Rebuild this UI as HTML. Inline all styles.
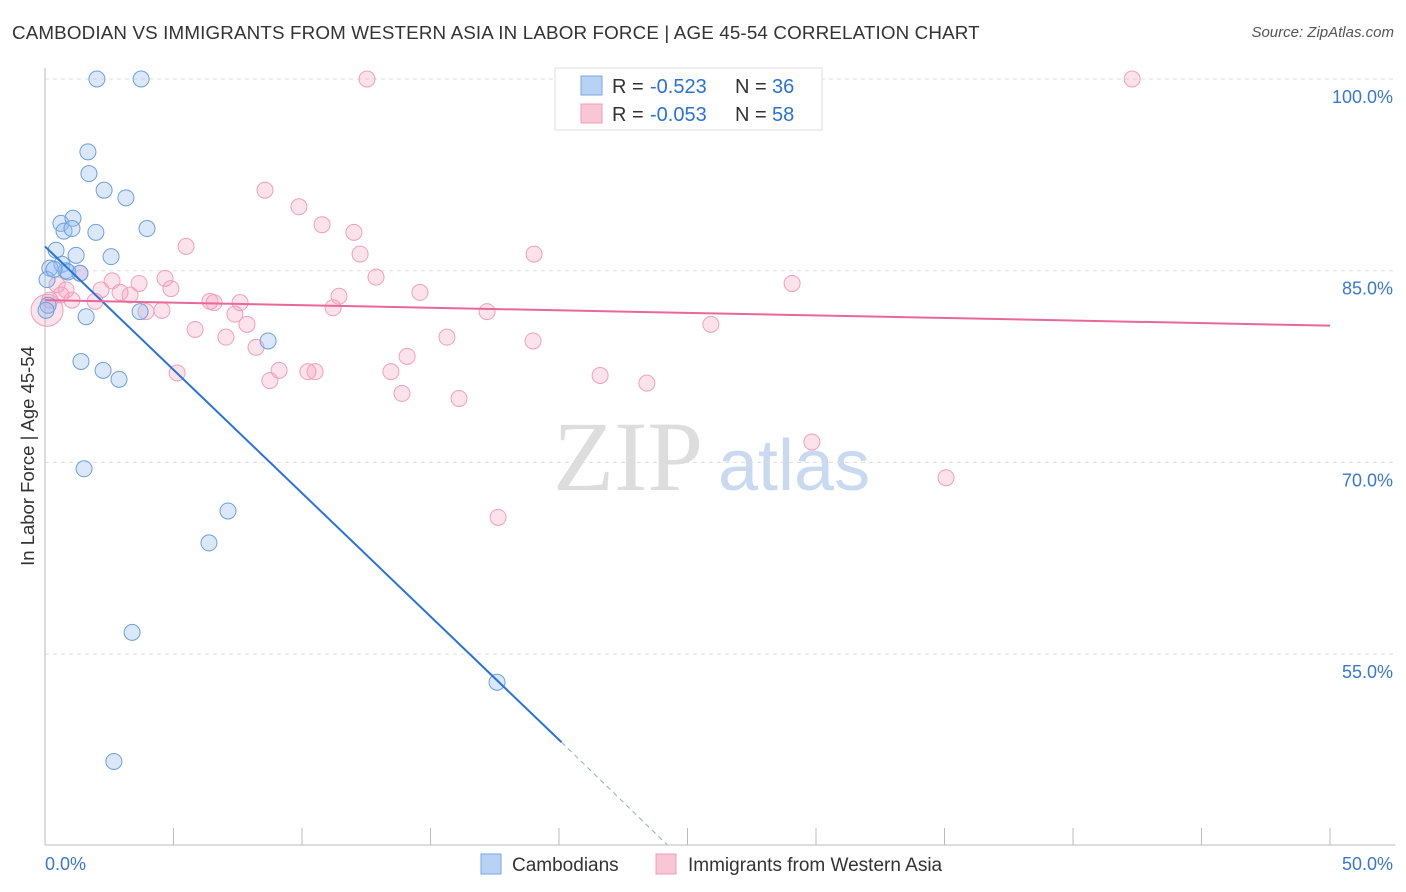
<!DOCTYPE html>
<html><head><meta charset="utf-8"><style>
body{margin:0;background:#fff;font-family:"Liberation Sans",sans-serif;}
#wrap{position:relative;width:1406px;height:892px;overflow:hidden;}
.t{position:absolute;white-space:nowrap;}
</style></head><body><div id="wrap">
<div class="t" style="left:12px;top:22px;font-size:18.8px;letter-spacing:0.15px;color:#333;">CAMBODIAN VS IMMIGRANTS FROM WESTERN ASIA IN LABOR FORCE | AGE 45-54 CORRELATION CHART</div>
<div class="t" style="right:12px;top:24px;font-size:15px;color:#555;font-style:italic;">Source: ZipAtlas.com</div>
<svg id="svg" width="1406" height="892" style="position:absolute;left:0;top:0"></svg>
</div>
<script>
const yTicks=[100,85,70,55];
const yTickLabels=["100.0%","85.0%","70.0%","55.0%"];
const xTickLabels=["0.0%","50.0%"];
const blueX=[2.02,3.74,1.67,1.71,2.30,3.15,3.97,0.62,1.09,0.74,1.05,1.98,0.43,1.21,2.57,0.19,0.66,0.82,1.36,0.08,0.12,1.60,3.70,1.40,2.26,2.88,8.68,1.52,7.12,6.38,3.39,17.59,2.68,0.89,0.35,0.04];
const blueY=[100,100,94.3,92.6,91.3,90.7,88.3,88.7,89.1,88.1,88.3,88.0,86.6,86.2,86.1,85.2,85.5,85.0,84.8,84.3,82.3,81.4,81.8,77.9,77.2,76.5,79.5,69.5,66.2,63.7,56.7,52.8,46.6,84.9,85.1,81.9];
const pinkX=[20.5,12.53,42.3,8.56,9.88,10.78,12.02,5.49,12.26,19.03,12.88,29.07,14.59,11.44,11.21,17.2,4.90,3.66,4.67,2.61,3.31,2.92,2.18,1.36,0.62,0.82,0.19,0.08,3.93,4.55,6.42,6.58,7.59,7.39,7.86,5.84,7.04,8.21,15.64,18.99,25.91,14.09,9.11,10.51,10.23,13.46,8.75,5.14,21.6,23.42,13.89,16.11,29.84,35.06,17.63,1.95,0.47,1.05];
const pinkY=[100,100,100,91.3,90.0,88.6,88.0,86.9,86.3,86.3,84.5,84.0,83.3,83.0,82.1,81.8,83.6,84.0,84.4,84.2,83.1,83.3,83.5,84.8,83.1,83.5,82.7,81.9,81.8,81.9,82.6,82.5,82.5,81.6,80.8,80.4,79.8,79.0,79.8,79.5,80.8,78.3,77.2,77.1,77.1,77.1,76.4,77.0,76.8,76.2,75.4,75.0,71.6,68.8,65.7,82.6,83.9,82.7];
const blueTrendX=[0,20.1],blueTrendY=[86.9,48.1],blueDashEnd=[24.2,40.1];
const pinkTrendX=[0,50],pinkTrendY=[82.7,80.7];
const X=v=>45+v*25.7, Y=v=>79+(100-v)*12.78;
const svg=document.getElementById('svg');const NS='http://www.w3.org/2000/svg';
function mk(t,a,p){const e=document.createElementNS(NS,t);for(const k in a)e.setAttribute(k,a[k]);(p||svg).appendChild(e);return e;}
let w=mk('text',{x:553,y:490,'font-size':100,'font-family':'Liberation Serif,serif',fill:'#ddd'});w.textContent='ZIP';


let w2=mk('text',{x:718,y:490,'font-size':72,'font-family':'Liberation Sans,sans-serif',fill:'#c9daf0'});w2.textContent='atlas';


yTicks.forEach((v,i)=>{
 const g=mk('line',{x1:45,x2:1395,y1:Y(v),y2:Y(v),stroke:'#ddd','stroke-dasharray':'4,4'});
 
 
 const t=mk('text',{x:1393,y:Y(v)+24,'text-anchor':'end','font-size':18,fill:'#3a78d0'});t.textContent=yTickLabels[i];
 
 
});
mk('line',{x1:45,x2:45,y1:68,y2:845,stroke:'#bbb'});
mk('line',{x1:45,x2:1395,y1:845,y2:845,stroke:'#bbb'});
for(let i=0;i<=10;i++){const l=mk('line',{x1:X(i*5),x2:X(i*5),y1:828,y2:845,stroke:'#bbb'});
 
 }
[[0,'start'],[50,'end']].forEach((d,i)=>{const t=mk('text',{x:i?1393:45,y:870,'text-anchor':d[1],'font-size':18,fill:'#3a78d0'});t.textContent=xTickLabels[i];
 
 });
const yl=mk('text',{x:34,y:456,transform:'rotate(-90 34 456)','text-anchor':'middle','font-size':18.5,fill:'#333'});yl.textContent='In Labor Force | Age 45-54';


pinkX.forEach((x,i)=>{const c=mk('circle',{cx:X(x),cy:Y(pinkY[i]),r:(i==27?16:8),fill:'rgba(244,160,190,0.3)',stroke:'#f0a0bb','stroke-width':1});
 
 });
blueX.forEach((x,i)=>{const c=mk('circle',{cx:X(x),cy:Y(blueY[i]),r:8,fill:'rgba(150,190,240,0.35)',stroke:'#6e9fe0','stroke-width':1});
 
 });
let l1=mk('line',{x1:X(blueTrendX[0]),y1:Y(blueTrendY[0]),x2:X(blueTrendX[1]),y2:Y(blueTrendY[1]),stroke:'#2a72d8','stroke-width':2});


let l2=mk('line',{x1:X(blueTrendX[1]),y1:Y(blueTrendY[1]),x2:X(blueDashEnd[0]),y2:Y(blueDashEnd[1]),stroke:'#9ab','stroke-width':1,'stroke-dasharray':'5,4'});


let l3=mk('line',{x1:X(pinkTrendX[0]),y1:Y(pinkTrendY[0]),x2:X(pinkTrendX[1]),y2:Y(pinkTrendY[1]),stroke:'#e8689a','stroke-width':2});


const lg=mk('g',{});
mk('rect',{x:555,y:68,width:267,height:62,fill:'#fff',stroke:'#ddd'},lg);
mk('rect',{x:581,y:76,width:21,height:19,fill:'#b8d2f4',stroke:'#7aa6e0'},lg);
mk('rect',{x:581,y:104,width:21,height:19,fill:'#f9c6d6',stroke:'#ef9cb8'},lg);
[[93,'-0.523','36'],[121,'-0.053','58']].forEach(r=>{
 const a1=mk('text',{x:612,y:r[0],'font-size':20,fill:'#333'},lg);a1.textContent='R =';
 const a2=mk('text',{x:650,y:r[0],'font-size':20,fill:'#2a72d8'},lg);a2.textContent=r[1];
 const a3=mk('text',{x:735,y:r[0],'font-size':20,fill:'#333'},lg);a3.textContent='N =';
 const a4=mk('text',{x:772,y:r[0],'font-size':20,fill:'#2a72d8'},lg);a4.textContent=r[2];
});
const bl=mk('g',{});
mk('rect',{x:481,y:854,width:20,height:20,fill:'#b8d2f4',stroke:'#7aa6e0'},bl);
let a=mk('text',{x:512,y:871,'font-size':19,fill:'#333'},bl);a.textContent='Cambodians';
mk('rect',{x:656,y:854,width:20,height:20,fill:'#f9c6d6',stroke:'#ef9cb8'},bl);
let b=mk('text',{x:688,y:871,'font-size':19,fill:'#333'},bl);b.textContent='Immigrants from Western Asia';
</script></body></html>
